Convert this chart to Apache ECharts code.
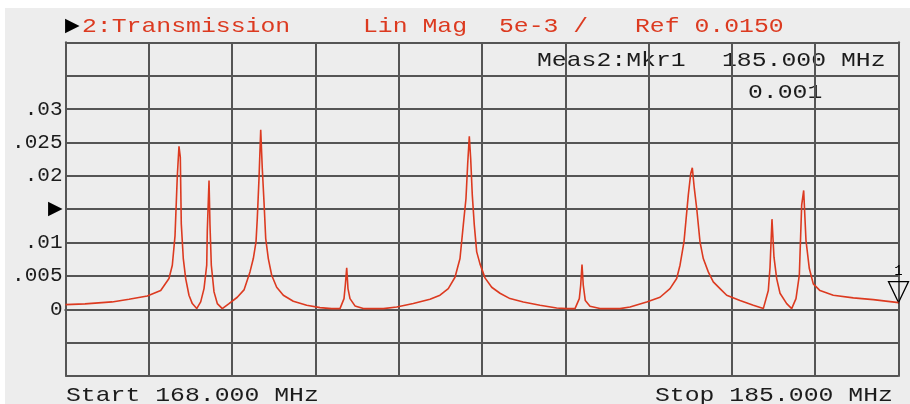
<!DOCTYPE html>
<html>
<head>
<meta charset="utf-8">
<script src="https://cdn.jsdelivr.net/npm/echarts@6/dist/echarts.min.js"></script>
<style>
  html, body { margin: 0; padding: 0; background: #ffffff; }
  #frame { position: relative; width: 910px; height: 404px; background: #ffffff; overflow: hidden; }
  #chart { position: absolute; left: 5px; top: 8px; width: 905px; height: 396px; background: #ededed; }
</style>
</head>
<body>
<div id="frame"><div id="chart"></div></div>
<script>
// Sweep settings (MHz) and vertical scale (linear magnitude)
const START_MHZ = 168.0;
const STOP_MHZ = 185.0;
const REF_LEVEL = 0.015;
const SCALE_PER_DIV = 0.005;
const DIVISIONS = 10;

// Measured transmission trace: frequency (MHz) and linear magnitude
const FREQ = [
  168.000, 168.398, 168.949, 169.296, 169.669, 169.943, 170.112, 170.180, 170.235, 170.282,
  170.316, 170.343, 170.363, 170.404, 170.453, 170.520, 170.588, 170.678, 170.759, 170.827,
  170.882, 170.894, 170.929, 170.949, 170.976, 171.031, 171.098, 171.200, 171.337, 171.506,
  171.643, 171.765, 171.833, 171.888, 171.914, 171.949, 171.984, 172.016, 172.051, 172.086,
  172.139, 172.208, 172.310, 172.445, 172.649, 172.922, 173.194, 173.433, 173.602, 173.684,
  173.710, 173.739, 173.765, 173.806, 173.908, 174.078, 174.486, 174.759, 175.098, 175.439,
  175.643, 175.812, 175.949, 176.051, 176.118, 176.173, 176.208, 176.241, 176.269, 176.302,
  176.343, 176.392, 176.459, 176.561, 176.698, 176.867, 177.071, 177.343, 177.684, 178.024,
  178.229, 178.398, 178.486, 178.514, 178.541, 178.567, 178.608, 178.704, 178.908, 179.316,
  179.520, 179.861, 180.133, 180.337, 180.473, 180.541, 180.622, 180.710, 180.759, 180.792,
  180.833, 180.882, 180.949, 181.016, 181.118, 181.220, 181.357, 181.494, 181.765, 182.037,
  182.241, 182.343, 182.378, 182.418, 182.459, 182.514, 182.582, 182.718, 182.820, 182.908,
  182.976, 183.024, 183.065, 183.112, 183.180, 183.261, 183.398, 183.669, 184.078, 184.486,
  185.000
];
const TRANS = [
  0.0007, 0.0008, 0.0011, 0.0015, 0.0020, 0.0028, 0.0046, 0.0066, 0.0110, 0.0200,
  0.0244, 0.0228, 0.0128, 0.0076, 0.0046, 0.0021, 0.00085, 0.0001, 0.0011, 0.0031,
  0.0066, 0.0118, 0.0193, 0.0126, 0.0066, 0.0026, 0.00085, 0.0001, 0.00085, 0.0018,
  0.0029, 0.0056, 0.0076, 0.0101, 0.0136, 0.0196, 0.0269, 0.0211, 0.0161, 0.0106,
  0.0076, 0.0051, 0.0033, 0.0021, 0.0012, 0.0006, 0.00025, 0.0001, 0.0001, 0.0016,
  0.0036, 0.0062, 0.0031, 0.0016, 0.0005, 0.0001, 0.0001, 0.00035, 0.00085, 0.0015,
  0.0021, 0.0031, 0.0048, 0.0076, 0.0126, 0.0166, 0.0218, 0.0259, 0.0226, 0.0171,
  0.0126, 0.0086, 0.0068, 0.0047, 0.0033, 0.0024, 0.0016, 0.0011, 0.0006, 0.0002,
  0.0001, 0.0001, 0.0016, 0.0036, 0.0067, 0.0036, 0.0013, 0.00045, 0.0001, 0.0001,
  0.00035, 0.0011, 0.0018, 0.0031, 0.0046, 0.0066, 0.0101, 0.0171, 0.0203, 0.0212,
  0.0181, 0.0151, 0.0101, 0.0076, 0.0056, 0.0041, 0.0031, 0.0021, 0.0013, 0.0006,
  0.0001, 0.0028, 0.0063, 0.0135, 0.0078, 0.0046, 0.0024, 0.00085, 0.0001, 0.0016,
  0.0051, 0.0156, 0.0178, 0.0103, 0.0061, 0.0038, 0.0028, 0.0021, 0.0017, 0.00145,
  0.0010
];

// Vertical tick labels; the reference level is flagged with an arrow
const Y_TICK_VALUES = [0.03, 0.025, 0.02, 0.015, 0.01, 0.005, 0];
const Y_TICK_TEXT = ['.03', '.025', '.02', '\u25B6', '.01', '.005', '0'];

const TRACE_NAME = '2:Transmission';
const FORMAT_NAME = 'Lin Mag';
const MARKER_INDEX = FREQ.length - 1;

const RED = '#dc3a20';
const INK = '#1c1c1c';
const GRID = '#555555';
const MONO = '"Liberation Mono", "DejaVu Sans Mono", monospace';
const FONT_PX = 21;
const STRETCH = 1.18;     // widen the monospace glyphs to the instrument's pitch
const OX = 5, OY = 8;     // chart panel offset inside the frame

const yMin = REF_LEVEL - SCALE_PER_DIV * DIVISIONS / 2;
const yMax = REF_LEVEL + SCALE_PER_DIV * DIVISIONS / 2;

function mhz(v) { return v.toFixed(3) + ' MHz'; }

function txt(str, x, yMid, color, size) {
  return {
    type: 'text', x: x - OX, y: yMid - OY, scaleX: STRETCH, silent: true,
    style: {
      text: str, fill: color, font: (size || FONT_PX) + 'px ' + MONO,
      align: 'left', verticalAlign: 'middle'
    }
  };
}

const chart = echarts.init(document.getElementById('chart'), null, { renderer: 'canvas' });

const gridLine = { show: true, lineStyle: { color: GRID, width: 2 } };

chart.setOption({
  animation: false,
  backgroundColor: 'transparent',
  grid: { left: 60.5, right: 11.5, top: 34.3, bottom: 28, show: false },
  xAxis: [
    {
      type: 'value', min: START_MHZ, max: STOP_MHZ, position: 'bottom',
      axisLine: gridLine, axisTick: { show: false }, axisLabel: { show: false },
      splitLine: { show: false }
    },
    {
      type: 'value', min: 0, max: DIVISIONS, interval: 1, position: 'top',
      axisLine: gridLine, axisTick: { show: false }, axisLabel: { show: false },
      splitLine: gridLine
    }
  ],
  yAxis: [
    {
      type: 'value', min: yMin, max: yMax, interval: SCALE_PER_DIV, position: 'left',
      axisLine: gridLine, axisTick: { show: false }, splitLine: gridLine,
      axisLabel: {
        show: true, margin: 3, color: INK, fontFamily: MONO, fontSize: FONT_PX,
        formatter: function (v) {
          for (let i = 0; i < Y_TICK_VALUES.length; i++) {
            if (Math.abs(Y_TICK_VALUES[i] - v) < 1e-9) {
              return Y_TICK_TEXT[i] === '\u25B6' ? '{ref|\u25B6}' : Y_TICK_TEXT[i];
            }
          }
          return '';
        },
        rich: { ref: { fontFamily: 'DejaVu Sans', fontSize: 19, color: '#000000' } }
      }
    },
    {
      type: 'value', min: yMin, max: yMax, position: 'right',
      axisLine: gridLine, axisTick: { show: false }, axisLabel: { show: false },
      splitLine: { show: false }
    }
  ],
  series: [
    {
      name: TRACE_NAME, type: 'line', xAxisIndex: 0, yAxisIndex: 0,
      data: FREQ.map((f, i) => [f, TRANS[i]]),
      showSymbol: false, symbol: 'none',
      lineStyle: { color: RED, width: 1.6 },
      z: 5,
      markPoint: {
        silent: true,
        data: [{
          coord: [FREQ[MARKER_INDEX], TRANS[MARKER_INDEX]],
          symbol: 'path://M0,0 L20,0 L10,21 Z',
          symbolSize: [20, 21],
          symbolKeepAspect: false,
          symbolOffset: [0, '-50%'],
          itemStyle: { color: 'rgba(0,0,0,0)', borderColor: '#000000', borderWidth: 1.3 },
          label: {
            show: true, position: 'top', distance: 3, formatter: '1',
            color: '#000000', fontFamily: MONO, fontSize: 14
          }
        }]
      }
    }
  ],
  graphic: [
    {
      type: 'text', x: 65 - OX, y: 26 - OY, silent: true,
      style: { text: '\u25B6', fill: '#000000', font: '19px "DejaVu Sans"', align: 'left', verticalAlign: 'middle' }
    },
    txt(TRACE_NAME, 82, 26, RED),
    txt(FORMAT_NAME, 363, 26, RED),
    txt(SCALE_PER_DIV.toExponential(0).replace('+', '') + ' /', 499, 26, RED),
    txt('Ref ' + REF_LEVEL.toFixed(4), 635, 26, RED),
    txt('Meas2:Mkr1', 537, 60.5, INK),
    txt(mhz(FREQ[MARKER_INDEX]), 722, 60.5, INK),
    txt(TRANS[MARKER_INDEX].toFixed(3), 748, 92.5, INK),
    txt('Start ' + mhz(START_MHZ), 66, 395, INK),
    txt('Stop ' + mhz(STOP_MHZ), 655, 395, INK)
  ]
});
</script>
</body>
</html>
